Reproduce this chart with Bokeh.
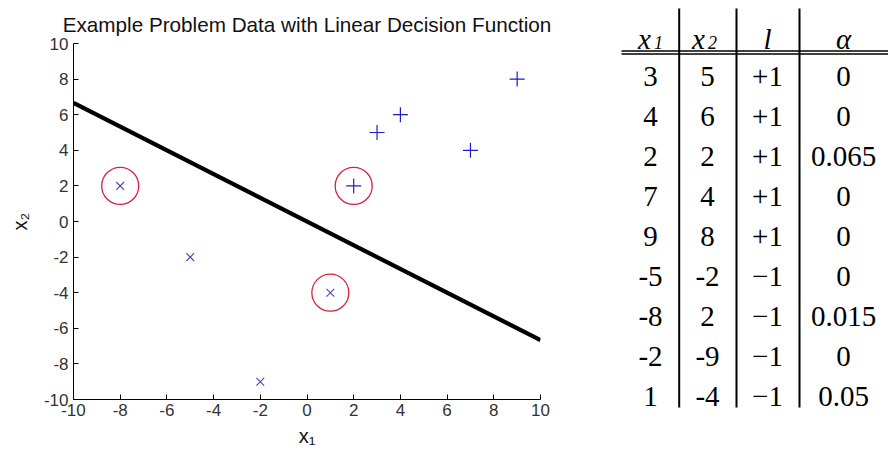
from bokeh.plotting import figure
from bokeh.layouts import row
from bokeh.models import Range1d, FixedTicker, ColumnDataSource
from bokeh.core.properties import value
from bokeh.embed import file_html
from bokeh.resources import INLINE

# Training points, their labels and the dual coefficients
x1 = [3, 4, 2, 7, 9, -5, -8, -2, 1]
x2 = [5, 6, 2, 4, 8, -2, 2, -9, -4]
labels = [1, 1, 1, 1, 1, -1, -1, -1, -1]
alphas = ["0", "0", "0.065", "0", "0", "0", "0.015", "0", "0.05"]

# Linear decision boundary across the plotted range
boundary_x = [-10, 10]
boundary_y = [6.667, -6.667]

ticks = [-10, -8, -6, -4, -2, 0, 2, 4, 6, 8, 10]

SANS = "Liberation Sans"
SERIF = "Liberation Serif"
BLUE = "#1c1cc8"
RED = "#d8203c"

pos = ColumnDataSource(dict(
    x=[a for a, l in zip(x1, labels) if l > 0],
    y=[b for b, l in zip(x2, labels) if l > 0]))
neg = ColumnDataSource(dict(
    x=[a for a, l in zip(x1, labels) if l < 0],
    y=[b for b, l in zip(x2, labels) if l < 0]))
sv = ColumnDataSource(dict(
    x=[a for a, s in zip(x1, alphas) if float(s) > 0],
    y=[b for b, s in zip(x2, alphas) if float(s) > 0]))

p = figure(width=590, height=449,
           x_range=Range1d(-10, 10), y_range=Range1d(-10, 10),
           output_backend="svg", toolbar_location=None,
           min_border_left=73, min_border_right=50,
           min_border_top=43, min_border_bottom=49)

p.title.text = "Example Problem Data with Linear Decision Function"
p.title.align = "center"
p.title.text_font = SANS
p.title.text_font_size = "20.7px"
p.title.text_font_style = "normal"
p.title.text_color = "#111111"
p.title.standoff = 15

p.outline_line_color = None
p.xgrid.visible = False
p.ygrid.visible = False

for ax in (p.xaxis[0], p.yaxis[0]):
    ax.ticker = FixedTicker(ticks=ticks)
    ax.major_label_overrides = {t: str(t) for t in ticks}
    ax.major_tick_in = 5
    ax.major_tick_out = 0
    ax.minor_tick_line_color = None
    ax.axis_line_color = "black"
    ax.major_tick_line_color = "black"
    ax.major_label_text_font = SANS
    ax.major_label_text_font_size = "17px"
    ax.major_label_text_color = "#333333"
    ax.axis_label_text_font = SANS
    ax.axis_label_text_font_size = "20px"
    ax.axis_label_text_font_style = "normal"
    ax.axis_label_text_color = "#111111"

p.xaxis.axis_label = "x\u2081"
p.yaxis.axis_label = "x\u2082"
p.xaxis.major_label_standoff = 4
p.yaxis.major_label_standoff = 5
p.xaxis.axis_label_standoff = 6
p.yaxis.axis_label_standoff = 10

p.line(boundary_x, boundary_y, line_color="black", line_width=4.2)
p.scatter("x", "y", source=pos, marker="cross", size=15,
          line_color=BLUE, line_width=1.2)
p.scatter("x", "y", source=neg, marker="x", size=11,
          line_color="#4646c0", line_width=1.1)
p.scatter("x", "y", source=sv, marker="circle", size=37,
          fill_color=None, line_color=RED, line_width=1.3)

# Table of the points beside the chart, drawn in pixel coordinates
t = figure(width=298, height=449,
           x_range=Range1d(590, 888), y_range=Range1d(449, 0),
           output_backend="svg", toolbar_location=None,
           x_axis_type=None, y_axis_type=None, min_border=0)
t.outline_line_color = None
t.xgrid.visible = False
t.ygrid.visible = False

# keep each plot's frame independent inside the row
for fig in (p, t):
    if "frame_align" in fig.properties():
        fig.frame_align = False

col_x = [650, 707, 767, 843]
row0 = 75.5
row_step = 40.1
n = len(x1)
rows_y = [row0 + row_step * i for i in range(n)]
label_text = ["+1" if l > 0 else "\u22121" for l in labels]

cells_x, cells_y, cells_t = [], [], []
for col, values in zip(col_x, [[str(v) for v in x1], [str(v) for v in x2],
                               label_text, alphas]):
    cells_x += [col] * n
    cells_y += rows_y
    cells_t += values

t.text(cells_x, cells_y, text=cells_t, text_font=value(SERIF),
       text_font_size="29px", text_align="center",
       text_baseline="alphabetic", text_color="black")

# Header row: italic variable names with subscripts
t.text([644, 698, 767, 843], [38, 38, 38, 38], text=["x", "x", "l", "\u03b1"],
       text_font=value(SERIF), text_font_size="29px", text_font_style="italic",
       text_align="center", text_baseline="alphabetic", text_color="black")
t.text([658, 712], [42, 42], text=["1", "2"],
       text_font=value(SERIF), text_font_size="18px", text_font_style="italic",
       text_align="center", text_baseline="alphabetic", text_color="black")

# Rules of the table
t.segment(x0=[678.7, 736, 799], y0=[8, 8, 8], x1=[678.7, 736, 799],
          y1=[407, 407, 407], line_color="black", line_width=2)
t.segment(x0=[621, 621], y0=[50.5, 53.5], x1=[888, 888], y1=[50.5, 53.5],
          line_color="black", line_width=1.3)

layout = row(p, t, spacing=0)

open("out.html", "w").write(file_html(layout, INLINE))
